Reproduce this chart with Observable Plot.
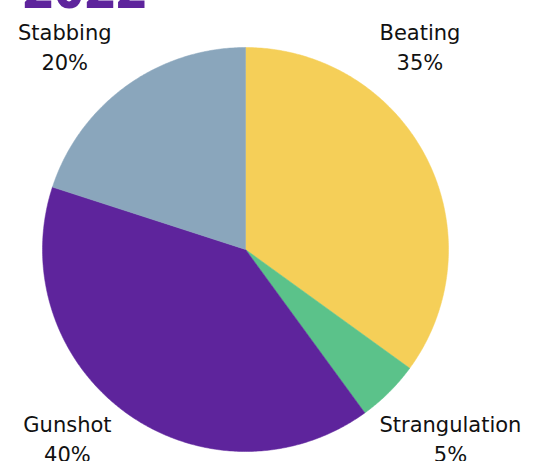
<!DOCTYPE html>
<html>
<head>
<meta charset="utf-8">
<script src="https://cdn.jsdelivr.net/npm/d3@7"></script>
<script src="https://cdn.jsdelivr.net/npm/@observablehq/plot@0.6"></script>
<style>
  html, body { margin: 0; padding: 0; background: #fff; overflow: hidden; }
  #wrap { position: relative; width: 557px; height: 461px; }
  #title { position: absolute; left: 23px; top: -38px; font-family: "Noto Sans", sans-serif; font-weight: 800; font-size: 52px; line-height: 52px; color: #5E249C; margin: 0; letter-spacing: 1px; }
  #chart { position: absolute; left: 0; top: 0; }
</style>
</head>
<body>
<div id="wrap">
  <div id="title">2022</div>
  <div id="chart"></div>
</div>
<script>
const categories = ["Beating", "Strangulation", "Gunshot", "Stabbing"];
const shares = [35, 5, 40, 20];
const colors = ["#F5CF58", "#5BC28A", "#5E249C", "#8AA6BC"];

const FONT = "'DejaVu Sans', sans-serif";
const FONT_SIZE = 21;

const total = d3.sum(shares);
let acc = 0;
const slices = categories.map((c, i) => {
  const a0 = acc / total * 2 * Math.PI;
  acc += shares[i];
  const a1 = acc / total * 2 * Math.PI;
  return {category: c, share: shares[i], a0, a1};
});

// polygon points for each slice (angle measured clockwise from 12 o'clock)
const pts = [];
for (const s of slices) {
  pts.push({category: s.category, x: 0, y: 0});
  const n = Math.max(2, Math.ceil((s.a1 - s.a0) / (Math.PI / 360)));
  for (let k = 0; k <= n; k++) {
    const a = s.a0 + (s.a1 - s.a0) * k / n;
    pts.push({category: s.category, x: Math.sin(a), y: Math.cos(a)});
  }
  pts.push({category: s.category, x: 0, y: 0});
}

// measure label widths to keep two-line labels centred while their inner edge sits near the pie
const ctx = document.createElement("canvas").getContext("2d");
ctx.font = `${FONT_SIZE}px ${FONT}`;

// labels: placed at the outer corner of the quadrant containing each slice's middle
const labels = slices.map(s => {
  const mid = (s.a0 + s.a1) / 2;
  const q = Math.floor(mid / (Math.PI / 2));
  const diag = q * Math.PI / 2 + Math.PI / 4;
  const sx = Math.sign(Math.sin(diag)), sy = Math.sign(Math.cos(diag));
  const lines = [s.category, `${s.share}%`];
  const w = d3.max(lines, l => ctx.measureText(l).width);
  return {text: lines.join("\n"), x: sx * 0.66, y: sy > 0 ? 1.01 : -0.93, dx: sx * w / 2};
});

const chart = Plot.plot({
  width: 557,
  height: 461,
  marginLeft: 42,
  marginRight: 109,
  marginTop: 47,
  marginBottom: 10,
  x: {domain: [-1, 1], axis: null},
  y: {domain: [-1, 1], axis: null},
  color: {domain: categories, range: colors},
  style: {fontFamily: FONT, overflow: "visible"},
  marks: [
    Plot.line(pts, {x: "x", y: "y", z: "category", fill: "category", stroke: "category", strokeWidth: 0.5, curve: "linear"}),
    ...labels.map(l => Plot.text([l], {x: "x", y: "y", text: "text", textAnchor: "middle", dx: l.dx, fontSize: FONT_SIZE, lineHeight: 1.43, fill: "#111"}))
  ]
});
document.getElementById("chart").appendChild(chart);
</script>
</body>
</html>
